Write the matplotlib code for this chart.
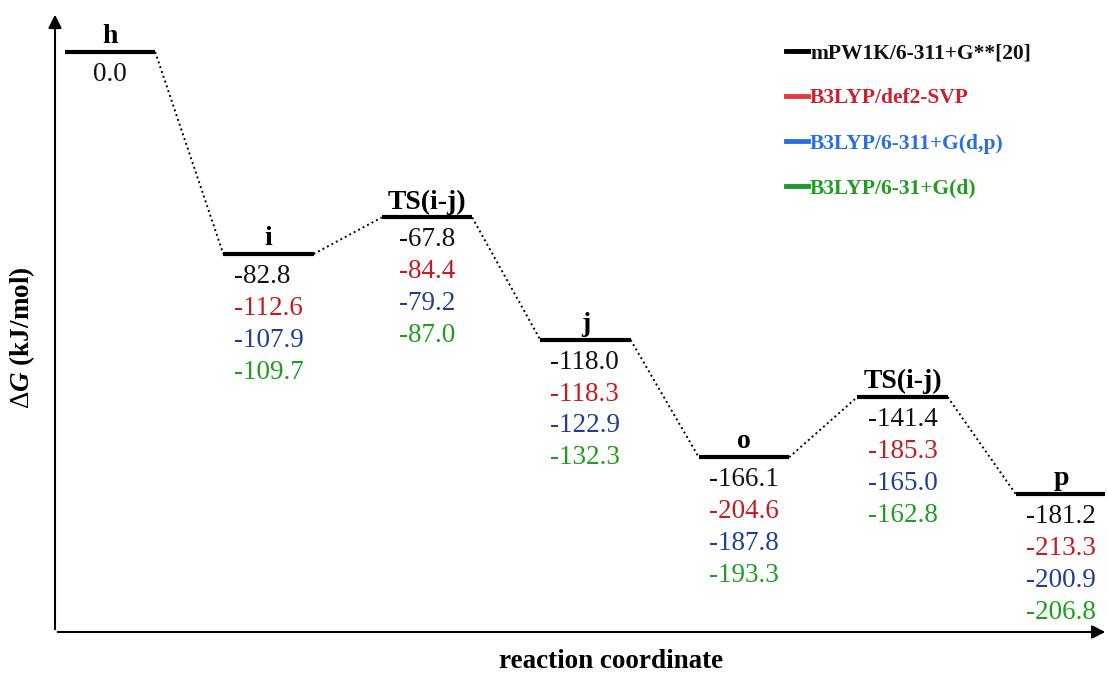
import numpy as np
import matplotlib.pyplot as plt
from matplotlib.lines import Line2D

plt.rcParams['font.family'] = 'Liberation Serif'
plt.rcParams['mathtext.fontset'] = 'custom'
plt.rcParams['mathtext.rm'] = 'Liberation Serif'
plt.rcParams['mathtext.it'] = 'Liberation Serif:italic:bold'
plt.rcParams['mathtext.bf'] = 'Liberation Serif:bold'

# Species along the path and relative free energies (kJ/mol)
names = ['h', 'i', 'TS(i-j)', 'j', 'o', 'TS(i-j)', 'p']
mpw1k = [0.0, -82.8, -67.8, -118.0, -166.1, -141.4, -181.2]
def2svp = [None, -112.6, -84.4, -118.3, -204.6, -185.3, -213.3]
b3lyp_6311 = [None, -107.9, -79.2, -122.9, -187.8, -165.0, -200.9]
b3lyp_631 = [None, -109.7, -87.0, -132.3, -193.3, -162.8, -206.8]

methods = ['mPW1K/6-311+G**[20]', 'B3LYP/def2-SVP', 'B3LYP/6-311+G(d,p)', 'B3LYP/6-31+G(d)']
line_colors = ['#000000', '#e03a3e', '#2a6fe0', '#1a9a2a']
text_colors = ['#111111', '#cc2030', '#2a6fe0', '#1e9e1e']
value_colors = ['#111111', '#c41a22', '#1f3f94', '#1e9e1e']

dpi = 100
fig = plt.figure(figsize=(11.08, 6.75), dpi=dpi)
ax = fig.add_axes([55 / 1108, 43 / 675, 1050 / 1108, 614 / 675])
ax.set_xlim(-0.347, 6.278)
ax.set_ylim(-237.7, 13.9)
ax.axis('off')

# axes with arrow heads
ax.annotate('', xy=(0, 1.01), xytext=(0, 0), xycoords='axes fraction',
            arrowprops=dict(arrowstyle='-|>', color='black', lw=1.5, mutation_scale=20))
ax.annotate('', xy=(1.003, 0), xytext=(0, 0), xycoords='axes fraction',
            arrowprops=dict(arrowstyle='-|>', color='black', lw=1.5, mutation_scale=20))

xs = np.arange(len(names))
hw = 0.285

# energy levels and dotted connectors
ax.hlines(mpw1k, xs - hw, xs + hw, color='black', lw=3)
for k in range(len(xs) - 1):
    ax.plot([xs[k] + hw, xs[k + 1] - hw], [mpw1k[k], mpw1k[k + 1]],
            ls=(0, (1, 1.6)), color='black', lw=1.4)

# species labels
for x, y, n in zip(xs, mpw1k, names):
    ax.annotate(n, (x, y), xytext=(0, 2), textcoords='offset points',
                ha='center', va='bottom', fontsize=20, fontweight='bold')

# value labels, stacked and left aligned in a block centred on the level
series = [mpw1k, def2svp, b3lyp_6311, b3lyp_631]
blocks = []
for k, x in enumerate(xs):
    texts = []
    for j, s in enumerate(series):
        if s[k] is None:
            continue
        t = ax.annotate(f'{s[k]:.1f}', (x, mpw1k[k]), xytext=(0, -16 - 23 * j),
                        textcoords='offset points', ha='left', va='center',
                        fontsize=19.5, color=value_colors[j])
        texts.append(t)
    blocks.append(texts)

fig.canvas.draw()
renderer = fig.canvas.get_renderer()
for texts in blocks:
    maxw = max(t.get_window_extent(renderer).width for t in texts)
    for t in texts:
        t.xyann = (-maxw / 2 * 72 / dpi, t.xyann[1])

# legend
handles = [Line2D([], [], color=c, lw=3.5) for c in line_colors]
ax.legend(handles, methods, loc='upper left', bbox_to_anchor=(786 / 1108, 1 - 43 / 675),
          bbox_transform=fig.transFigure, frameon=False, borderpad=0, borderaxespad=0,
          handlelength=1.0, handletextpad=0.12, labelspacing=1.17,
          prop={'size': 15.5, 'weight': 'bold'}, labelcolor=text_colors)

fig.text(22 / 1108, 1 - 338 / 675, r'$\Delta\mathit{G}$ (kJ/mol)', rotation=90,
         ha='center', va='center', fontsize=19.5, fontweight='bold')
fig.text(611 / 1108, 1 - 662 / 675, 'reaction coordinate', ha='center', va='center',
         fontsize=19.5, fontweight='bold')

fig.savefig('out.png', dpi=dpi)
